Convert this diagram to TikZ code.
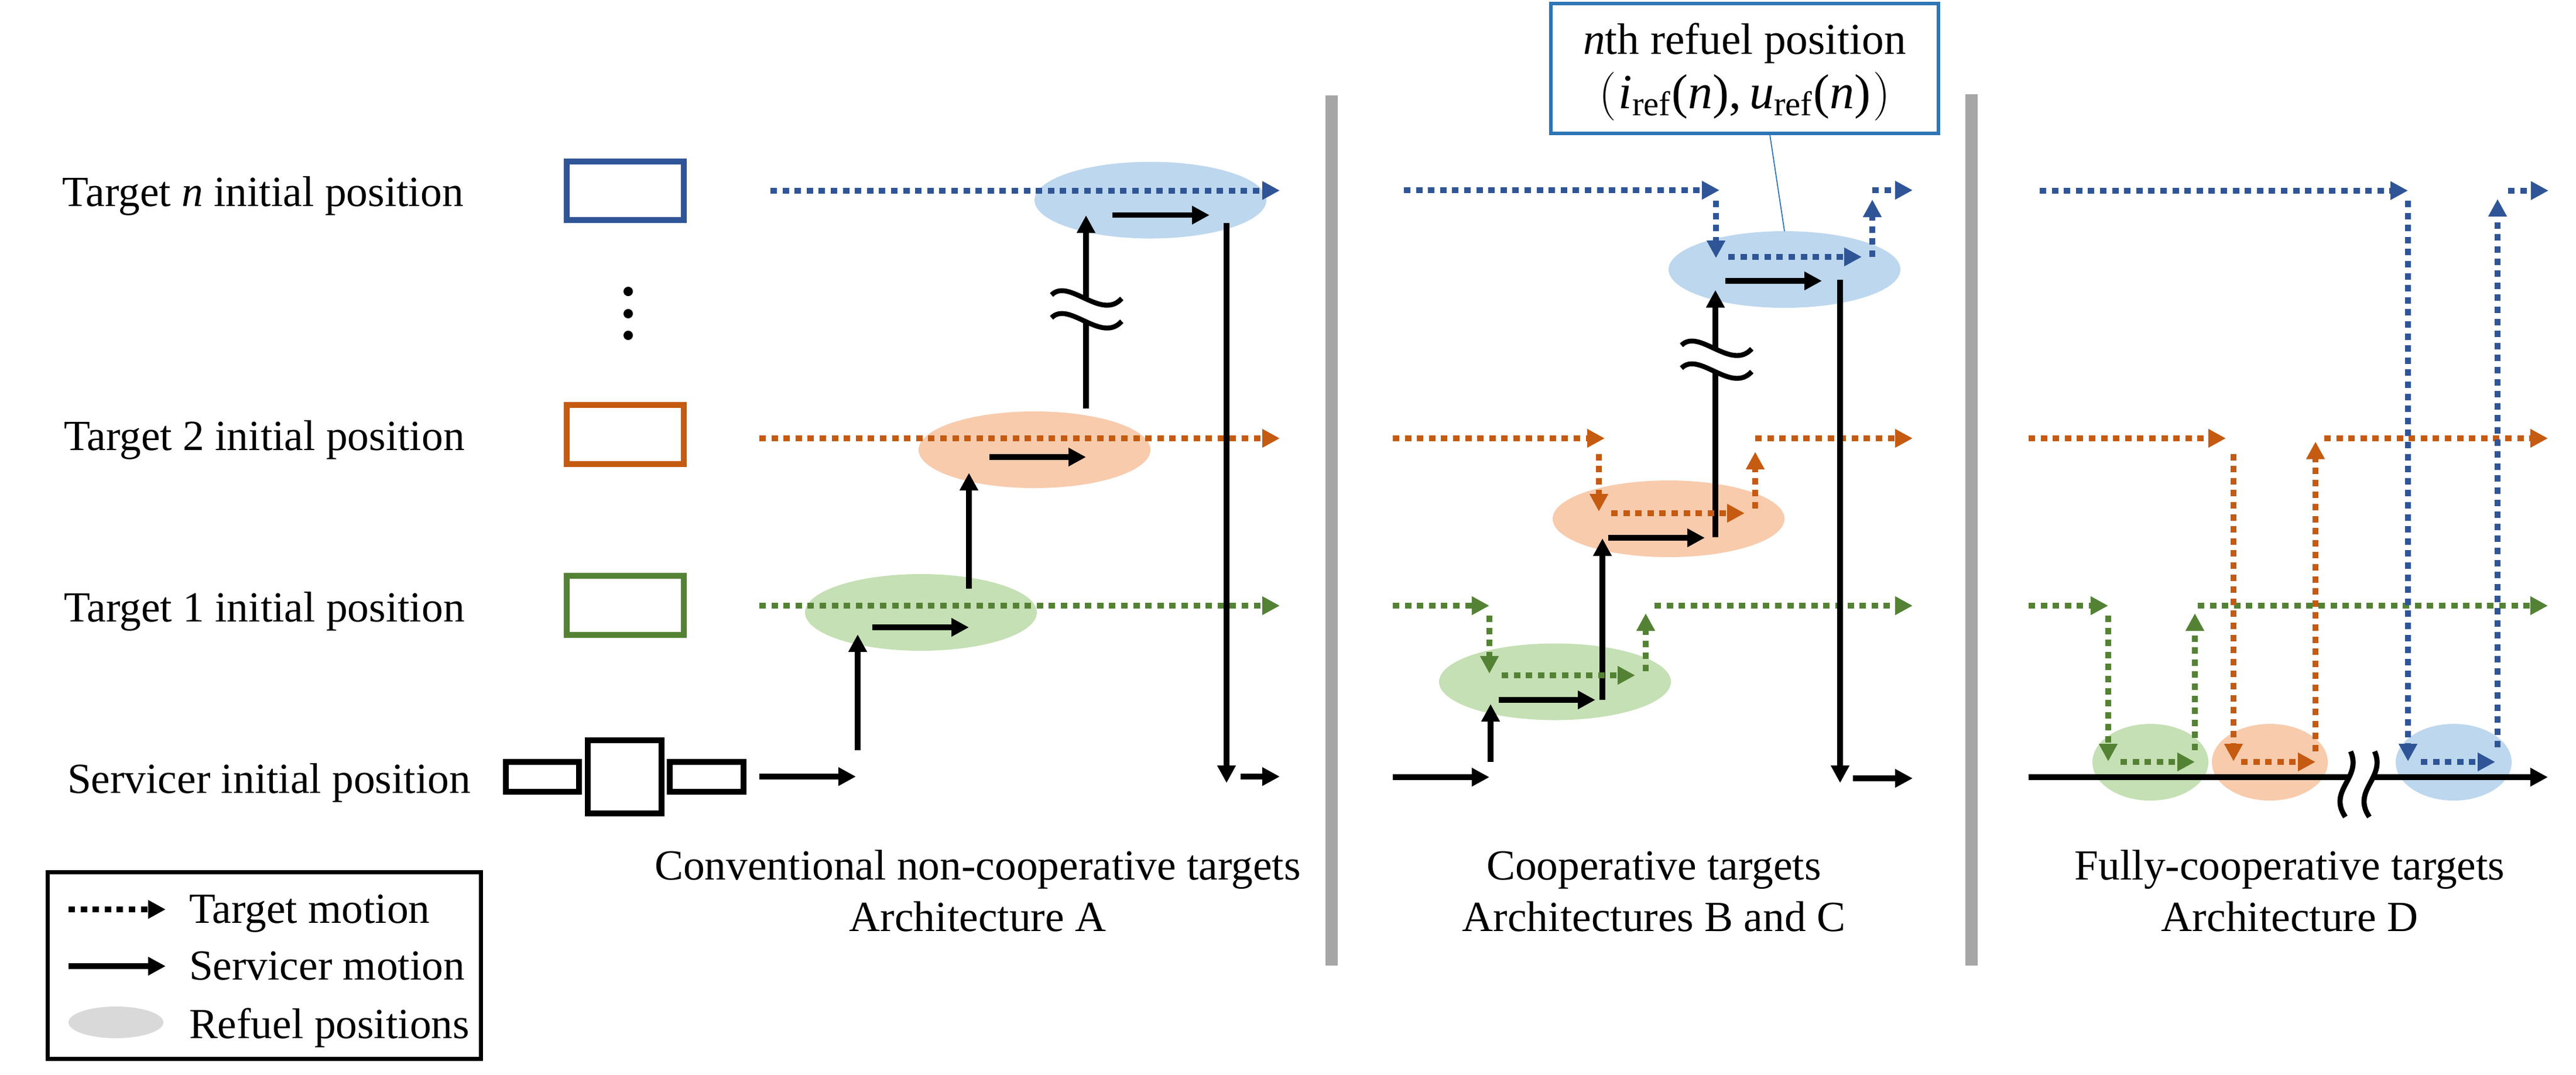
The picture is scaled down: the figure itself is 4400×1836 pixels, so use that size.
\documentclass[tikz,border=0pt]{standalone}
\usepackage{fontspec}
\setmainfont{Liberation Serif}
\usetikzlibrary{arrows.meta,shapes.geometric}
\definecolor{cblue}{HTML}{2F5597}
\definecolor{corange}{HTML}{C55A11}
\definecolor{cgreen}{HTML}{548235}
\definecolor{lblue}{HTML}{BDD7EE}
\definecolor{lorange}{HTML}{F8CBAD}
\definecolor{lgreen}{HTML}{C5E0B4}
\definecolor{boxblue}{HTML}{2E75B6}
\definecolor{barcol}{HTML}{A6A6A6}
\definecolor{lgray}{HTML}{D9D9D9}
\tikzset{
  tip/.style={-{Triangle[length=7.5pt,width=7.5pt]}},
  svc/.style={line width=2.35pt,black,tip},
  tgt/.style={line width=2.5pt,dash pattern=on 2.75pt off 2.4pt,tip},
  ell/.style={ellipse,draw=none,inner sep=0pt,outer sep=0pt},
  wide/.style={ell,minimum width=99pt,minimum height=32.75pt},
  narrow/.style={ell,minimum width=49.5pt,minimum height=32.75pt},
  label/.style={inner sep=0pt,outer sep=0pt,anchor=base west,font=\fontsize{18.35}{22}\selectfont},
  caption/.style={inner sep=0pt,outer sep=0pt,anchor=base,font=\fontsize{18.35}{22}\selectfont},
  hollow/.style={line width=2.35pt,fill=white},
  bar/.style={fill=barcol,draw=none},
  wave/.style={line width=2.1pt,black},
  breakline/.style={line width=2.2pt,black},
}
\newcommand\arr[4]{\coordinate (#2-a) at (#3);\coordinate (#2-b) at (#4);\draw[#1] (#2-a) -- (#2-b);}
\newcommand\squig[3]{%
  \begin{scope}[shift={(#2,#3)}]
    \fill[white] (0,0) .. controls (30,-30) and (85,45) .. (120,6) -- (120,45) .. controls (85,84) and (30,9) .. (0,39) -- cycle;
    \draw[wave] (0,0) .. controls (30,-30) and (85,45) .. (120,6);
    \draw[wave] (0,39) .. controls (30,9) and (85,84) .. (120,45);
  \end{scope}}
\begin{document}
\begin{tikzpicture}[x=0.25pt,y=-0.25pt]
\fill[white] (0,0) rectangle (4400,1836);
\useasboundingbox (0,0) rectangle (4400,1836);

% separators
\fill[bar] (2264,163) rectangle (2285,1650);
\fill[bar] (3357,161) rectangle (3378,1650);

% left column labels
\node[label] (ln) at (107,352) {Target \textit{n} initial position};
\node[label] (l2) at (109,769) {Target 2 initial position};
\node[label] (l1) at (109,1062) {Target 1 initial position};
\node[label] (ls) at (115,1355) {Servicer initial position};

% target rectangles
\draw[hollow,draw=cblue] (968,276) rectangle (1168,376);
\draw[hollow,draw=corange] (968,692) rectangle (1168,793);
\draw[hollow,draw=cgreen] (968,984) rectangle (1168,1085);
\fill (1073,498) circle (8);
\fill (1073,536) circle (8);
\fill (1073,573) circle (8);

% servicer icon
\draw[hollow,draw=black] (864,1302) rectangle (989,1353);
\draw[hollow,draw=black] (1004,1265) rectangle (1130,1390);
\draw[hollow,draw=black] (1144,1302) rectangle (1270,1353);

% ===== panel 1
\node[wide,fill=lblue] (p1b) at (1965,342) {};
\node[wide,fill=lorange] (p1o) at (1767,768.5) {};
\node[wide,fill=lgreen] (p1g) at (1573,1046.5) {};
\arr{tgt,cblue}{a1}{1316,325.5}{2186,325.5}
\arr{tgt,corange}{a2}{1297,749}{2186,749}
\arr{tgt,cgreen}{a3}{1297,1035}{2186,1035}
\arr{svc}{a4}{1297,1327}{1462,1327}
\arr{svc}{a5}{1465,1282}{1465,1084}
\arr{svc}{a6}{1490,1072}{1655,1072}
\arr{svc}{a7}{1655,1006}{1655,808}
\arr{svc}{a8}{1690,781}{1855,781}
\arr{svc}{a9}{1855,698}{1855,368}
\squig{w1}{1796}{504}
\arr{svc}{a10}{1900,367.6}{2066,367.6}
\arr{svc}{a11}{2095,381}{2095,1338}
\arr{svc}{a12}{2119,1327}{2186,1327}

% ===== panel 2
\node[wide,fill=lblue] (p2b) at (3048,460.5) {};
\node[wide,fill=lorange] (p2o) at (2850,886.5) {};
\node[wide,fill=lgreen] (p2g) at (2656,1165) {};
\arr{svc}{b1}{2379,1328}{2544,1328}
\arr{svc}{b2}{2546,1302}{2546,1203}
\arr{svc}{b3}{2560,1196}{2725,1196}
\arr{svc}{b4}{2737,1196}{2737,920}
\arr{svc}{b5}{2747,919}{2912,919}
\arr{svc}{b6}{2930,918}{2930,495.5}
\squig{w2}{2872}{590}
\arr{svc}{b7}{2947,480}{3112,480}
\arr{tgt,cblue}{c1}{2398,325}{2937,325}
\arr{tgt,cblue}{c2}{2931,343}{2931,441}
\arr{tgt,cblue}{c3}{2952,439}{3180,439}
\arr{tgt,cblue}{c4}{3198,439}{3198,341}
\arr{tgt,cblue}{c5}{3198,325}{3267,325}
\arr{tgt,corange}{c6}{2379,749}{2741,749}
\arr{tgt,corange}{c7}{2731,775.5}{2731,874}
\arr{tgt,corange}{c8}{2752,877}{2980,877}
\arr{tgt,corange}{c9}{2998,869}{2998,772}
\arr{tgt,corange}{c10}{2998,749}{3267,749}
\arr{tgt,cgreen}{c11}{2379,1035}{2544,1035}
\arr{tgt,cgreen}{c12}{2544,1052}{2544,1151}
\arr{tgt,cgreen}{c13}{2565,1154}{2793,1154}
\arr{tgt,cgreen}{c14}{2811,1147}{2811,1048}
\arr{tgt,cgreen}{c15}{2826,1035}{3267,1035}
\arr{svc}{b8}{3143,478}{3143,1338}
\arr{svc}{b9}{3165,1330}{3267,1330}

% callout
\node[draw=boxblue,line width=1.3pt,fill=white,inner sep=0pt,minimum width=165.5pt,minimum height=55.5pt] (callout) at (2980,117) {};
\node[caption,font=\fontsize{18.8}{23}\selectfont] (callouta) at (2980,92) {\textit{n}th refuel position};
\node[caption,font=\fontsize{21}{23}\selectfont] (calloutb) at (2980,185) {$\Bigl($\kern1pt\textit{i}\textsubscript{ref}(\textit{n}),\,\textit{u}\textsubscript{ref}(\textit{n})\kern1pt$\Bigr)$};
\coordinate (calloutend) at (3048,395);
\draw[boxblue,line width=0.45pt] (3023,230) -- (calloutend);

% ===== panel 3
\node[narrow,fill=lgreen] (p3g) at (3673,1302.5) {};
\node[narrow,fill=lorange] (p3o) at (3877,1302.5) {};
\node[narrow,fill=lblue] (p3b) at (4191,1302.5) {};
\arr{svc}{d0}{3465,1328}{4352,1328}
\begin{scope}
  \fill[white] (4015,1284) .. controls (4035,1330) and (3975,1350) .. (4006,1396) -- (4047,1396) .. controls (4016,1350) and (4076,1330) .. (4056,1284) -- cycle;
  \draw[breakline] (4015,1284) .. controls (4035,1330) and (3975,1350) .. (4006,1396);
  \draw[breakline] (4056,1284) .. controls (4076,1330) and (4016,1350) .. (4047,1396);
\end{scope}
\arr{tgt,cgreen}{e1}{3465,1035}{3601,1035}
\arr{tgt,cgreen}{e2}{3601,1052}{3601,1301}
\arr{tgt,cgreen}{e3}{3622,1302}{3749,1302}
\arr{tgt,cgreen}{e4}{3749,1282}{3749,1048}
\arr{tgt,cgreen}{e5}{3754,1035}{4352,1035}
\arr{tgt,corange}{e6}{3465,749}{3802,749}
\arr{tgt,corange}{e7}{3815,775.5}{3815,1301}
\arr{tgt,corange}{e8}{3828,1302}{3955,1302}
\arr{tgt,corange}{e9}{3955,1284}{3955,754.6}
\arr{tgt,corange}{e10}{3970,749}{4352,749}
\arr{tgt,cblue}{e11}{3484,325.7}{4113,325.7}
\arr{tgt,cblue}{e12}{4113,343}{4113,1301}
\arr{tgt,cblue}{e13}{4135,1302}{4262,1302}
\arr{tgt,cblue}{e14}{4266,1276.5}{4266,340}
\arr{tgt,cblue}{e15}{4284,325.7}{4353,325.7}

% captions
\node[caption] (t1a) at (1670,1503) {Conventional non-cooperative targets};
\node[caption] (t1b) at (1670,1591) {Architecture A};
\node[caption] (t2a) at (2825,1503) {Cooperative targets};
\node[caption] (t2b) at (2825,1591) {Architectures B and C};
\node[caption] (t3a) at (3911,1503) {Fully-cooperative targets};
\node[caption] (t3b) at (3911,1591) {Architecture D};

% legend
\draw[line width=1.75pt,black] (81.5,1490) rectangle (821.5,1809);
\arr{tgt,black}{g1}{117,1554}{283,1554}
\arr{svc}{g2}{117,1651}{283,1651}
\node[ell,fill=lgray,minimum width=40.5pt,minimum height=13.5pt] (g3) at (198,1747) {};
\node[label] (lg1) at (323,1577) {Target motion};
\node[label] (lg2) at (323,1674) {Servicer motion};
\node[label] (lg3) at (323,1774) {Refuel positions};
\end{tikzpicture}
\end{document}
